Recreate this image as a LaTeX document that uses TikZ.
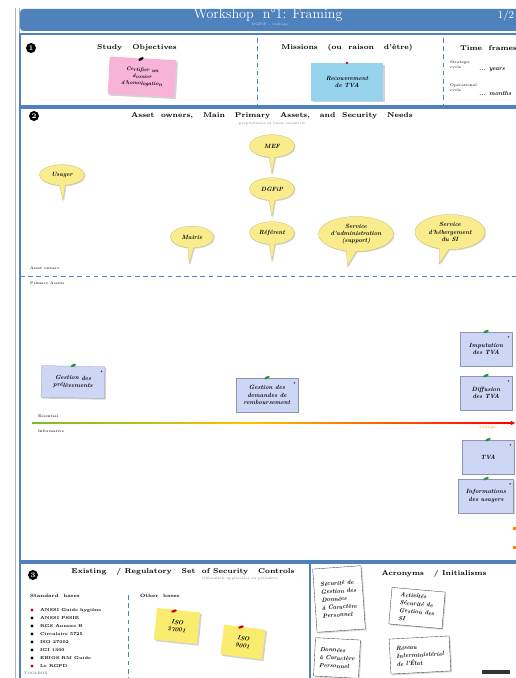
\documentclass[tikz,border=0pt]{standalone}
\usetikzlibrary{shapes.callouts,shapes.geometric,shadows,arrows.meta}

\definecolor{hdrblue}{RGB}{79,129,189}
\definecolor{bubyellow}{RGB}{250,236,140}
\definecolor{notepink}{RGB}{248,180,215}
\definecolor{noteblue}{RGB}{150,212,238}
\definecolor{assetblue}{RGB}{205,214,245}
\definecolor{postit}{RGB}{250,236,110}
\definecolor{pingreen}{RGB}{40,150,60}
\definecolor{axgreen}{RGB}{120,190,40}
\definecolor{axyellow}{RGB}{255,195,0}

\newcommand\hand{\fontsize{5.2}{6.2}\selectfont\itshape\bfseries}
\newcommand\handsmall{\fontsize{4.6}{5.8}\selectfont\itshape\bfseries}
\newcommand\handbig{\fontsize{5.1}{6.8}\selectfont\itshape\bfseries}
\newcommand\headfont{\fontsize{6}{7}\selectfont\bfseries}

\tikzset{
  frame/.style={draw=hdrblue, line width=1.1pt},
  sepline/.style={draw=hdrblue, dashed, line width=0.7pt, dash pattern=on 4pt off 3pt},
  heading/.style={font=\headfont},
  smalltxt/.style={font=\fontsize{3.2}{3.8}\selectfont, align=left},
  secnum/.style={circle, fill=black, text=white, minimum size=0.3cm, inner sep=0pt,
    font=\fontsize{6}{6}\selectfont\bfseries},
  bubble/.style={ellipse callout, fill=bubyellow, draw=bubyellow!75!black, line width=0.2pt,
    font=\hand, align=center, inner sep=1pt,
    drop shadow={opacity=0.3, shadow xshift=0.3mm, shadow yshift=-0.3mm}},
  assetnote/.style={rectangle, fill=assetblue, draw=assetblue!70!black, line width=0.2pt,
    font=\hand, align=center, inner sep=1pt, minimum width=1.55cm, minimum height=1cm,
    drop shadow={opacity=0.35, shadow xshift=0.4mm, shadow yshift=-0.4mm}},
  sticky/.style={rectangle, font=\hand, align=center, inner sep=1pt,
    drop shadow={opacity=0.35, shadow xshift=0.5mm, shadow yshift=-0.5mm}},
  paper/.style={rectangle, fill=white, draw=black!75, line width=0.3pt, font=\handbig,
    align=left, inner sep=1.5pt,
    drop shadow={opacity=0.3, shadow xshift=0.4mm, shadow yshift=-0.4mm}},
  pushpin/.style={ellipse, minimum width=5pt, minimum height=2.2pt, inner sep=0pt}
}

\begin{document}
\begin{tikzpicture}[x=0.03cm, y=-0.03cm]
  \path[use as bounding box, clip] (0,0) rectangle (516,678);
  \fill[white] (0,0) rectangle (516,678);

  % Left margin
  \draw[gray!60, line width=0.8pt] (15,8) -- (15,678);
  \draw[gray!60, line width=0.8pt] (19,8) -- (19,678);

  % Title bar
  \fill[hdrblue, rounded corners=3pt] (20,9) rectangle (540,31);
  \node[text=white, font=\large] (title) at (268,15) {Workshop \ n°1: Framing};
  \node[text=white!75!hdrblue, font=\fontsize{3}{3}\selectfont] (subtitle) at (270,25) {DGFiP -- cadrage};
  \node[text=white, font=\small] (page) at (506,16) {1/2};

  % Section frames
  \draw[frame] (20,34) rectangle (540,106);
  \draw[frame] (20,108) rectangle (540,561);
  \draw[frame] (20,563) rectangle (310,690);
  \draw[frame] (310,563) rectangle (540,690);

  %%% Section 1
  \node[secnum] (n1) at (31,48) {1};
  \draw[sepline] (257,38) -- (257,104);
  \draw[sepline] (443,38) -- (443,104);

  \node[heading] (objectives) at (137,48) {Study \ \ Objectives};
  \node[heading] (missions) at (347,48) {Missions \ \ (ou \ raison \ \ d'être)};
  \node[heading, anchor=west] (timeframes) at (456,48) {Time \ frames};

  \node[sticky, fill=notepink, minimum width=2cm, minimum height=1.12cm, rotate=-3,
    font=\handsmall] (objective) at (142,77) {Certifier un\\dossier\\d'homologation};
  \node[pushpin, fill=black, rotate=30] (pinobj) at (141,59) {};

  \node[sticky, fill=noteblue, minimum width=2.15cm, minimum height=1.12cm]
    (mission) at (347,82) {Recouvrement\\de TVA};
  \node[circle, fill=red!80!black, inner sep=0pt, minimum size=2.5pt] (pinmis) at (347,63) {};

  \node[smalltxt, anchor=west] (strategic) at (446,65) {Strategic\\cycle};
  \node[font=\hand, anchor=west] (years) at (475,70) {... years};
  \node[smalltxt, anchor=west] (operational) at (446,88) {Operational\\cycle};
  \node[font=\hand, anchor=west] (months) at (475,93) {... months};

  %%% Section 2
  \node[secnum] (n2) at (34,116) {2};
  \node[heading] (assettitle) at (272,116) {Asset \ owners, \ \ Main \ \ Primary \ \ Assets, \ \ and \ Security \ \ Needs};
  \node[font=\fontsize{3}{3}\selectfont, text=gray] (assetsub) at (272,124) {propriétaires et biens essentiels};

  % Owners
  \node[bubble, minimum width=1.35cm, minimum height=0.62cm,
    callout relative pointer={(0.02cm,-0.45cm)}] (usager) at (62,175) {Usager};
  \node[bubble, minimum width=1.35cm, minimum height=0.68cm,
    callout relative pointer={(0.0cm,-0.5cm)}] (mef) at (272,146) {MEF};
  \node[bubble, minimum width=1.35cm, minimum height=0.68cm,
    callout relative pointer={(0.0cm,-0.5cm)}] (dgfip) at (272,189) {DGFiP};
  \node[bubble, minimum width=1.3cm, minimum height=0.65cm,
    callout relative pointer={(-0.05cm,-0.48cm)}] (maire) at (192,237) {Mairie};
  \node[bubble, minimum width=1.35cm, minimum height=0.68cm,
    callout relative pointer={(0.0cm,-0.5cm)}] (referent) at (272,233) {Référent};
  \node[bubble, minimum width=2.2cm, minimum height=1.05cm,
    callout relative pointer={(-0.12cm,-0.45cm)}] (admin) at (356,234)
    {Service\\d'administration\\(support)};
  \node[bubble, minimum width=2.1cm, minimum height=1.05cm,
    callout relative pointer={(-0.15cm,-0.45cm)}] (hebergement) at (450,232)
    {Service\\d'hébergement\\du SI};

  \node[smalltxt, anchor=west] (ownerslbl) at (26,268) {Asset owners};
  \draw[sepline] (20,276) -- (516,276);
  \node[smalltxt, anchor=west] (primarylbl) at (26,284) {Primary Assets};

  % Primary assets
  \node[assetnote, minimum width=1.9cm, minimum height=0.95cm, rotate=-1] (prelev) at (73,382)
    {Gestion des\\prélèvements};
  \node[assetnote, minimum width=1.85cm, minimum height=1cm] (rembours) at (267,395)
    {Gestion des\\demandes de\\remboursement};
  \node[assetnote] (imputation) at (486,349) {Imputation\\des TVA};
  \node[assetnote] (diffusion) at (486,393) {Diffusion\\des TVA};
  \node[assetnote] (tva) at (488,457) {TVA};
  \node[assetnote, minimum width=1.65cm] (infos) at (486,496) {Informations\\des usagers};

  \foreach \n in {prelev,rembours,imputation,diffusion,tva,infos}
  {
    \node[pushpin, fill=pingreen, rotate=25] (pin\n) at ([yshift=0.5pt]\n.north) {};
    \fill[black!80] ([xshift=-3pt,yshift=-4pt]\n.north east) circle (0.7pt);
  }

  % Needs axis
  \coordinate (axstart) at (32,423);
  \coordinate (axmid) at (250,423);
  \coordinate (axhead) at (505,423);
  \coordinate (axend) at (515,423);
  \shade[left color=axgreen, right color=axyellow] (32,422.2) rectangle (250,423.8);
  \shade[left color=axyellow, right color=red] (250,422.2) rectangle (506,423.8);
  \draw[red, line width=1.1pt, -{Stealth[length=4pt,width=4pt]}] (axhead) -- (axend);
  \node[smalltxt, anchor=west] (needhigh) at (34,416) {Essential};
  \node[smalltxt, anchor=west] (needlow) at (34,431) {Informative};
  \node[font=\fontsize{3}{3}\selectfont, text=orange] (needmax) at (493,428) {Critique \ \ —};

  % Right edge marks
  \fill[orange] (513,527) rectangle (516,530);
  \fill[orange] (513,546) rectangle (516,549);

  %%% Section 3
  \node[secnum] (n3) at (33,575) {3};
  \node[heading] (controlstitle) at (183,572) {Existing \ \ / Regulatory \ \ Set \ of Security \ \ Controls};
  \node[font=\fontsize{3}{3}\selectfont, text=gray] (controlssub) at (240,579) {référentiels applicables au périmètre};

  \node[smalltxt, font=\fontsize{4}{4}\selectfont\bfseries, anchor=west] (standard) at (26,596) {Standard \ bases};
  \foreach \y/\txt/\col in {610/ANSSI Guide hygiène/red!75!black, 618/ANSSI PSSIE/black,
      626/RGS Annexe B/black, 634/Circulaire 5725/black, 642/ISO 27002/black,
      650/IGI 1300/black, 658/EBIOS RM Guide/black, 666/Le RGPD/red!75!black}
  {
    \fill[\col] (32,\y) circle (1.3pt);
    \node[anchor=west, font=\fontsize{3.6}{4}\selectfont\bfseries] (item\y) at (36,\y) {\txt};
  }
  \node[font=\fontsize{3}{3}\selectfont, text=hdrblue!70!black, anchor=west] (toolbox) at (20,673) {TOOLBOX};

  \draw[sepline] (128,595) -- (128,678);
  \node[smalltxt, font=\fontsize{4}{4}\selectfont\bfseries, anchor=west] (other) at (136,596) {Other \ bases};

  \node[sticky, fill=postit, minimum width=1.3cm, minimum height=0.95cm, rotate=-6]
    (iso27001) at (177,626) {ISO\\27001};
  \node[pushpin, fill=red!80!black, rotate=20] (pin27001) at (174,611) {};
  \node[sticky, fill=postit, minimum width=1.25cm, minimum height=0.9cm, rotate=-7]
    (iso9001) at (243,642) {ISO\\9001};
  \node[pushpin, fill=red!80!black, rotate=20] (pin9001) at (241,627) {};

  % Acronyms
  \node[heading] (acronyms) at (434,574) {Acronyms \ \ / Initialisms};
  \node[paper, minimum width=1.45cm, minimum height=1.9cm, rotate=4] (acr1) at (339,599)
    {Sécurité de\\Gestion des\\Données\\à Caractère\\Personnel};
  \node[paper, minimum width=1.6cm, minimum height=1.1cm, rotate=-5] (acr2) at (417,608)
    {Activités\\Sécurité de\\Gestion des\\SI};
  \node[paper, minimum width=1.35cm, minimum height=1.15cm, rotate=-3] (acr3) at (337,658)
    {Données\\à Caractère\\Personnel};
  \node[paper, minimum width=1.8cm, minimum height=1.05cm, rotate=3] (acr4) at (420,655)
    {Réseau\\Interministériel\\de l'État};

  % Footer mark
  \fill[black!80] (482,670) rectangle (510,674);
\end{tikzpicture}
\end{document}
